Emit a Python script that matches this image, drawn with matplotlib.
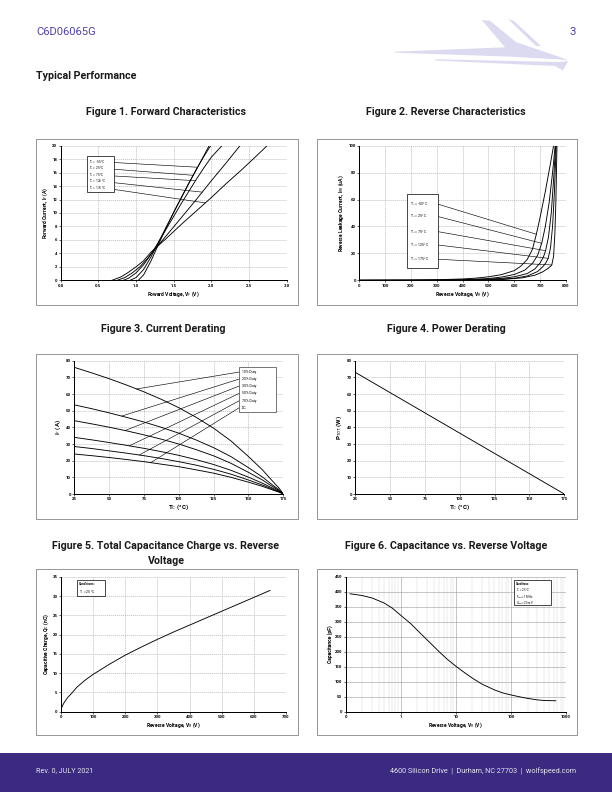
import numpy as np
import matplotlib
matplotlib.use("Agg")
import matplotlib.pyplot as plt
from matplotlib.patches import Rectangle, Polygon

plt.rcParams['font.family'] = ['Roboto', 'DejaVu Sans']
plt.rcParams['mathtext.fontset'] = 'custom'
plt.rcParams['mathtext.rm'] = 'Roboto'
plt.rcParams['mathtext.it'] = 'Roboto:italic'
plt.rcParams['mathtext.bf'] = 'Roboto:bold'

# ---------------- DATA ----------------
# Figure 1: forward characteristics (VF in V, IF in A)
fig1_labels = ["T$_J$ = -55 °C", "T$_J$ = 25 °C", "T$_J$ = 75 °C", "T$_J$ = 125 °C", "T$_J$ = 175 °C"]
vf_m55 = [1.03, 1.1, 1.2, 1.3, 1.4, 1.5, 1.6, 1.7, 1.8, 1.9, 1.99]
if_m55 = [0, 0.8, 2.9, 5.4, 7.8, 10.1, 12.3, 14.4, 16.5, 18.4, 20]
vf_25 = [0.92, 1.0, 1.1, 1.2, 1.3, 1.4, 1.5, 1.6, 1.7, 1.8, 1.9, 1.97]
if_25 = [0, 0.4, 1.6, 3.5, 5.7, 7.9, 10.1, 12.2, 14.4, 16.4, 18.5, 20]
vf_75 = [0.83, 0.9, 1.0, 1.1, 1.2, 1.3, 1.4, 1.5, 1.6, 1.7, 1.8, 1.9, 2.0, 2.14]
if_75 = [0, 0.3, 1.1, 2.3, 3.9, 5.7, 7.6, 9.5, 11.4, 13.2, 15.0, 16.7, 18.3, 20]
vf_125 = [0.75, 0.85, 0.95, 1.05, 1.15, 1.25, 1.4, 1.6, 1.8, 2.0, 2.2, 2.38]
if_125 = [0, 0.4, 1.1, 2.0, 3.2, 4.6, 6.6, 9.3, 12.0, 14.8, 17.5, 20]
vf_175 = [0.68, 0.8, 0.9, 1.0, 1.1, 1.2, 1.4, 1.6, 1.8, 2.0, 2.2, 2.4, 2.6, 2.74]
if_175 = [0, 0.5, 1.2, 2.0, 2.9, 4.2, 6.2, 8.3, 10.3, 12.3, 14.4, 16.4, 18.5, 20]
fig1_leader_if = [16.8, 15.6, 14.8, 13.1, 11.5]

# Figure 2: reverse leakage (VR in V, IR in uA)
fig2_labels = fig1_labels
vr_m55 = [0, 200, 300, 400, 450, 500, 550, 600, 625, 650, 670, 685, 700, 720, 740, 752]
ir_m55 = [0, 0.1, 0.4, 1.0, 1.6, 2.6, 4.2, 7.2, 10.5, 15.5, 23, 34, 47, 66, 87, 100]
vr_25 = [0, 300, 400, 500, 550, 600, 640, 670, 690, 706, 720, 735, 748, 758]
ir_25 = [0, 0.1, 0.4, 1.3, 2.4, 4.3, 7.5, 12.5, 18.5, 27.5, 40, 58, 80, 100]
vr_75 = [0, 350, 450, 550, 600, 650, 680, 700, 712, 721, 732, 743, 752, 760]
ir_75 = [0, 0.1, 0.4, 1.4, 2.6, 5, 8.5, 13, 17, 22, 32, 50, 75, 100]
vr_125 = [0, 400, 500, 600, 650, 690, 710, 722, 731, 740, 748, 755, 762]
ir_125 = [0, 0.1, 0.4, 1.5, 3.2, 6.5, 10, 13, 16.3, 24, 40, 65, 100]
vr_175 = [0, 450, 550, 630, 680, 710, 730, 740, 745, 752, 757, 761, 765]
ir_175 = [0, 0.1, 0.5, 1.8, 3.8, 6.3, 8.8, 10.4, 11.4, 18, 35, 60, 100]
fig2_leader_ir = [34.2, 27.5, 22.0, 16.3, 11.4]

# Figure 3: current derating (TC in C, IF in A)
fig3_labels = ["10% Duty", "20% Duty", "30% Duty", "50% Duty", "70% Duty", "DC"]
tc_der = [25, 37.5, 50, 62.5, 75, 87.5, 100, 112.5, 125, 137.5, 150, 160, 167, 172, 175]
if_d10 = [76, 72.7, 69.2, 65.4, 61.3, 56.8, 51.8, 46.0, 39.5, 31.8, 22.5, 14.5, 8.0, 3.5, 0]
if_d20 = [53.5, 51.2, 48.7, 46.0, 43.2, 40.0, 36.5, 32.4, 27.8, 22.4, 15.8, 10.2, 5.6, 2.5, 0]
if_d30 = [44, 42.1, 40.1, 37.9, 35.5, 32.9, 30.0, 26.6, 22.9, 18.4, 13.0, 8.4, 4.6, 2.0, 0]
if_d50 = [34, 32.5, 30.9, 29.2, 27.4, 25.4, 23.2, 20.6, 17.7, 14.2, 10.1, 6.5, 3.6, 1.6, 0]
if_d70 = [28.5, 27.3, 25.9, 24.5, 23.0, 21.3, 19.4, 17.3, 14.8, 11.9, 8.4, 5.4, 3.0, 1.3, 0]
if_dc = [24, 23.0, 21.9, 20.7, 19.4, 17.9, 16.4, 14.5, 12.5, 10.0, 7.1, 4.6, 2.5, 1.1, 0]
fig3_leader_tc = [69.7, 59, 61.4, 64.5, 71.6, 79.8]

# Figure 4: power derating
tc_pwr = [25, 175]
ptot = [73, 0]

# Figure 5: capacitive charge
vr_qc = [0, 2, 5, 10, 20, 30, 50, 75, 100, 150, 200, 250, 300, 350, 400, 450, 500, 550, 600, 650]
qc = [0, 1.0, 1.6, 2.4, 3.6, 4.5, 6.4, 8.2, 9.7, 12.3, 14.7, 16.8, 18.8, 20.7, 22.5, 24.3, 26.1, 27.9, 29.7, 31.5]

# Figure 6: capacitance vs reverse voltage
vr_c = [0.12, 0.2, 0.3, 0.5, 0.7, 1, 1.5, 2, 3, 5, 7, 10, 15, 20, 30, 50, 70, 100, 150, 200, 300, 400, 650]
cap = [394, 388, 380, 363, 346, 322, 295, 272, 240, 200, 175, 152, 128, 112, 92, 73, 63, 56, 49, 44.5, 39.5, 37.5, 36.5]
fig6_xticklabels = ["0", "1", "10", "100", "1000"]

# ---------------- LAYOUT ----------------
W, H = 612, 792
fig = plt.figure(figsize=(W / 72, H / 72), dpi=72)


def rect(l, t, r, b):
    return [l / W, 1 - b / H, (r - l) / W, (b - t) / H]


def P(x, y):
    return (x / W, 1 - y / H)


GRID = '#a6a6a6'
TICK_FS = 4.3


def style(ax, xlim, ylim, xticks, yticks, xlabels=None, dashed=True):
    ax.set_xlim(xlim)
    ax.set_ylim(ylim)
    ax.set_xticks(xticks)
    ax.set_yticks(yticks)
    if xlabels is not None:
        ax.set_xticklabels(xlabels)
    for lab in ax.get_xticklabels() + ax.get_yticklabels():
        lab.set_fontsize(TICK_FS)
        lab.set_fontweight('bold')
    ax.tick_params(axis='both', direction='out', length=2, width=0.6, pad=1.5)
    for s in ['top', 'right']:
        ax.spines[s].set_visible(False)
    for s in ['left', 'bottom']:
        ax.spines[s].set_linewidth(1.0)
        ax.spines[s].set_color('black')
    if dashed:
        ax.grid(True, ls=(0, (2.2, 1.4)), color=GRID, lw=0.55)
    ax.set_axisbelow(True)
    ax.patch.set_alpha(0)


def outer(l, t, r, b):
    fig.patches.append(Rectangle(P(l, b), (r - l) / W, (b - t) / H, transform=fig.transFigure,
                                 fill=False, ec='#555555', lw=0.6))


TITLE_FS = 10.6


def title(x, y, s):
    fig.text(x / W, 1 - y / H, s, ha='center', va='center', fontsize=TITLE_FS, fontweight='bold', color='#1a1a1a')


LBL_FS = 5.0
LW = 0.9
LEG_FS = 3.3
HDR = '#4f44a6'

# header
fig.text(36 / W, 1 - 32 / H, "C6D06065G", color=HDR, fontsize=11.2, va='center', ha='left')
fig.text(576 / W, 1 - 32 / H, "3", color=HDR, fontsize=11.2, va='center', ha='right')
fig.text(36 / W, 1 - 76 / H, "Typical Performance", fontsize=10.6, fontweight='bold', va='center',
         color='#1a1a1a')
logo_c = '#dcdaf0'
fig.patches.append(Polygon([P(395, 51.7), P(505, 47.3), P(481.7, 20), P(490, 20.7), P(516, 42), P(568.3, 60),
                            P(511.7, 56.7), P(395, 52.7)], closed=True, transform=fig.transFigure,
                           fc=logo_c, ec='none'))
fig.patches.append(Polygon([P(508, 19), P(514, 21), P(541, 46), P(536, 46)], closed=True,
                           transform=fig.transFigure, fc=logo_c, ec='none'))
fig.patches.append(Polygon([P(435, 59.3), P(560, 62), P(568, 61), P(563, 70.5), P(555, 66), P(435, 60.5)],
                           closed=True, transform=fig.transFigure, fc=logo_c, ec='none'))

# footer
fig.patches.append(Rectangle((0, 0), 1, (792 - 753) / H, transform=fig.transFigure, fc='#3b2a80', ec='none'))
fig.text(36 / W, 1 - 771 / H, "Rev. 0, JULY 2021", color='#e6e4f2', fontsize=7.2, va='center')
fig.text(576 / W, 1 - 771 / H, "4600 Silicon Drive  |  Durham, NC 27703  |  wolfspeed.com", color='#e6e4f2',
         fontsize=7.2, va='center', ha='right')

# ---------- Figure 1 ----------
title(166, 112, "Figure 1. Forward Characteristics")
outer(36, 139, 298, 305)
ax1 = fig.add_axes(rect(60.7, 145.7, 286.7, 280.3))
style(ax1, (0, 3), (0, 20), np.arange(0, 3.01, 0.5), np.arange(0, 21, 2),
      ["0.0", "0.5", "1.0", "1.5", "2.0", "2.5", "3.0"])
f1 = [(vf_m55, if_m55), (vf_25, if_25), (vf_75, if_75), (vf_125, if_125), (vf_175, if_175)]
for v, i in f1:
    ax1.plot(v, i, color='black', lw=LW, zorder=3)
ax1.set_xlabel("Foward Voltage, V$_F$ (V)", fontsize=LBL_FS, fontweight='bold', labelpad=1.5)
ax1.set_ylabel("Forward Current, I$_F$ (A)", fontsize=LBL_FS, fontweight='bold', labelpad=2)
ax1.add_patch(Rectangle((0.353, 13.1), 0.711 - 0.353, 18.4 - 13.1, fc='white', ec='black', lw=0.7, zorder=5))
rows1 = [17.6, 16.6, 15.6, 14.7, 13.7]
starts1 = [17.5, 16.5, 15.5, 14.5, 13.5]
for k, (v, i) in enumerate(f1):
    ax1.text(0.38, rows1[k], fig1_labels[k], fontsize=LEG_FS - 0.2, va='center', zorder=6)
    ve = np.interp(fig1_leader_if[k], i, v)
    ax1.plot([0.711, ve], [starts1[k], fig1_leader_if[k]], color='black', lw=0.6, zorder=4)

# ---------- Figure 2 ----------
title(446, 112, "Figure 2. Reverse Characteristics")
outer(317, 139, 577, 305)
ax2 = fig.add_axes(rect(359.3, 145.7, 566, 280.3))
style(ax2, (0, 800), (0, 100), np.arange(0, 801, 100), np.arange(0, 101, 20))
f2 = [(vr_m55, ir_m55), (vr_25, ir_25), (vr_75, ir_75), (vr_125, ir_125), (vr_175, ir_175)]
for v, i in f2:
    ax2.plot(v, i, color='black', lw=LW, zorder=3)
ax2.set_xlabel("Reverse Voltage, V$_R$ (V)", fontsize=LBL_FS, fontweight='bold', labelpad=1.5)
ax2.set_ylabel("Reverse Leakage Current, I$_{RR}$ (uA)", fontsize=LBL_FS, fontweight='bold', labelpad=2)
ax2.add_patch(Rectangle((183, 9.4), 306 - 183, 63.9 - 9.4, fc='white', ec='black', lw=0.7, zorder=5))
rows2 = [56.5, 47.3, 36.1, 26.2, 15.6]
for k, (v, i) in enumerate(f2):
    ax2.text(195, rows2[k], fig2_labels[k], fontsize=LEG_FS + 0.2, va='center', zorder=6)
    ve = np.interp(fig2_leader_ir[k], i, v)
    ax2.plot([306, ve], [rows2[k], fig2_leader_ir[k]], color='black', lw=0.6, zorder=4)

# ---------- Figure 3 ----------
title(163, 329, "Figure 3. Current Derating")
outer(36, 354, 298, 519)
ax3 = fig.add_axes(rect(74.3, 360.7, 283.3, 494))
style(ax3, (25, 175), (0, 80), np.arange(25, 176, 25), np.arange(0, 81, 10))
f3 = [if_d10, if_d20, if_d30, if_d50, if_d70, if_dc]
for i in f3:
    ax3.plot(tc_der, i, color='black', lw=LW, zorder=3)
ax3.set_xlabel("T$_C$ (°C)", fontsize=6.2, fontweight='bold', labelpad=1.5)
ax3.set_ylabel("I$_F$ (A)", fontsize=6.2, fontweight='bold', labelpad=3)
ax3.add_patch(Rectangle((143.4, 49), 169.8 - 143.4, 76.4 - 49, fc='white', ec='#404040', lw=0.7, zorder=5))
rows3 = [73.2, 69, 64.8, 60.4, 56, 51.8]
for k, i in enumerate(f3):
    ax3.text(145.3, rows3[k], fig3_labels[k], fontsize=LEG_FS + 0.2, va='center', zorder=6)
    ie = np.interp(fig3_leader_tc[k], tc_der, i)
    ax3.plot([143.4, fig3_leader_tc[k]], [rows3[k], ie], color='black', lw=0.6, zorder=4)

# ---------- Figure 4 ----------
title(446, 329, "Figure 4. Power Derating")
outer(317, 354, 577, 519)
ax4 = fig.add_axes(rect(355.3, 360.7, 564.3, 494))
style(ax4, (25, 175), (0, 80), np.arange(25, 176, 25), np.arange(0, 81, 10))
ax4.plot(tc_pwr, ptot, color='black', lw=LW, zorder=3)
ax4.set_xlabel("T$_C$ (°C)", fontsize=6.2, fontweight='bold', labelpad=1.5)
ax4.set_ylabel("P$_{TOT}$ (W)", fontsize=6.2, fontweight='bold', labelpad=3)

# ---------- Figure 5 ----------
fig.text(166 / W, 1 - 546 / H, "Figure 5. Total Capacitance Charge vs. Reverse", ha='center', va='center',
         fontsize=TITLE_FS, fontweight='bold', color='#1a1a1a')
fig.text(166 / W, 1 - 561 / H, "Voltage", ha='center', va='center', fontsize=TITLE_FS, fontweight='bold',
         color='#1a1a1a')
outer(36, 569, 298, 735)
ax5 = fig.add_axes(rect(61, 577, 286, 711.7))
style(ax5, (0, 700), (0, 35), np.arange(0, 701, 100), np.arange(0, 36, 5))
ax5.plot(vr_qc, qc, color='black', lw=LW, zorder=3)
ax5.set_xlabel("Reverse Voltage, V$_R$ (V)", fontsize=LBL_FS, fontweight='bold', labelpad=1.5)
ax5.set_ylabel("Capacitive Charge, Q$_C$ (nC)", fontsize=LBL_FS, fontweight='bold', labelpad=2)
ax5.add_patch(Rectangle((48.8, 30.1), 137 - 48.8, 34.1 - 30.1, fc='white', ec='black', lw=0.7, zorder=5))
ax5.text(56, 33.2, "Conditions:", fontsize=LEG_FS, fontweight='bold', va='center', zorder=6)
ax5.text(56, 31.1, "T$_J$ = 25 °C", fontsize=LEG_FS, va='center', zorder=6)

# ---------- Figure 6 ----------
title(446, 546, "Figure 6. Capacitance vs. Reverse Voltage")
outer(317, 569, 577, 735)
ax6 = fig.add_axes(rect(345.7, 577, 566, 711.7))
ax6.set_xscale('log')
style(ax6, (0.1, 1000), (0, 450), [0.1, 1, 10, 100, 1000], np.arange(0, 451, 50), fig6_xticklabels,
      dashed=False)
ax6.xaxis.set_minor_locator(matplotlib.ticker.LogLocator(base=10, subs=np.arange(2, 10)))
ax6.xaxis.set_minor_formatter(matplotlib.ticker.NullFormatter())
ax6.tick_params(axis='x', which='minor', length=0)
ax6.grid(True, which='major', color='#9a9a9a', lw=0.55)
ax6.grid(True, which='minor', axis='x', color='#d4d4d4', lw=0.45)
ax6.plot(vr_c, cap, color='black', lw=LW, zorder=3)
ax6.set_xlabel("Reverse Voltage, V$_R$ (V)", fontsize=LBL_FS, fontweight='bold', labelpad=1.5)
ax6.set_ylabel("Capacitance (pF)", fontsize=LBL_FS, fontweight='bold', labelpad=2)
ax6.add_patch(Rectangle((113.7, 356), 527 - 113.7, 441 - 356, fc='white', ec='black', lw=0.7, zorder=5))
for txt, yy, bw in [("Conditions:", 427, 'bold'), ("T$_J$ = 25 °C", 405.5, 'normal'),
                    ("F$_{test}$ = 1 MHz", 384, 'normal'), ("V$_{test}$ = 25 mV", 362.5, 'normal')]:
    ax6.text(123.6, yy, txt, fontsize=2.8, fontweight=bw, va='center', zorder=6)

fig.savefig("out.png", dpi=72)
